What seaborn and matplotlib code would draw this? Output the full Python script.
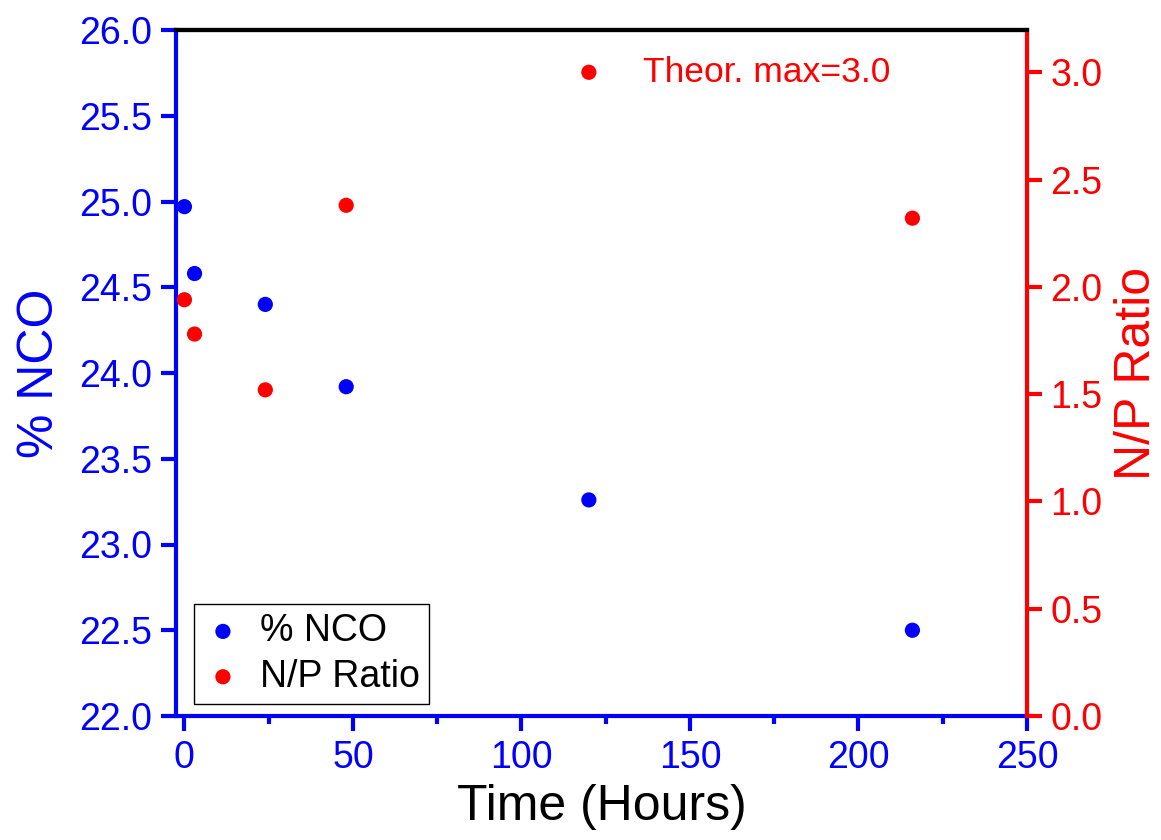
import matplotlib
matplotlib.use("Agg")
import matplotlib.pyplot as plt
from matplotlib.ticker import MultipleLocator
import seaborn as sns
import pandas as pd

time_hours = [0, 3, 24, 48, 120, 216]
nco_pct = [24.97, 24.58, 24.40, 23.92, 23.26, 22.50]
np_ratio = [1.94, 1.78, 1.52, 2.38, 3.00, 2.32]

sns.set_theme(style="white")
plt.rcParams['font.family'] = ['Liberation Sans', 'DejaVu Sans']

df = pd.DataFrame({"Time": time_hours, "NCO": nco_pct, "NP": np_ratio})

fig = plt.figure(figsize=(11.61, 8.40), dpi=100)
ax = fig.add_axes([176/1161, 1-716/840, (1027-176)/1161, (716-30)/840])
ax2 = ax.twinx()

BLUE = "#0000FF"
RED = "#FF0000"

sns.scatterplot(data=df, x="Time", y="NCO", ax=ax, color=BLUE, s=120,
                edgecolor="none", label="% NCO", legend=False, zorder=3)
sns.scatterplot(data=df, x="Time", y="NP", ax=ax2, color=RED, s=120,
                edgecolor="none", label="N/P Ratio", legend=False, zorder=3)

ax.set_xlim(-2.5, 250)
ax.set_ylim(22.0, 26.0)
ax2.set_ylim(0, 3.197)

ax.xaxis.set_major_locator(MultipleLocator(50))
ax.xaxis.set_minor_locator(MultipleLocator(25))
ax.yaxis.set_major_locator(MultipleLocator(0.5))
ax2.yaxis.set_major_locator(MultipleLocator(0.5))
ax.yaxis.set_major_formatter(matplotlib.ticker.FormatStrFormatter('%.1f'))
ax2.yaxis.set_major_formatter(matplotlib.ticker.FormatStrFormatter('%.1f'))

for a in (ax, ax2):
    for sp in a.spines.values():
        sp.set_linewidth(3)
ax.spines['left'].set_color(BLUE)
ax.spines['bottom'].set_color(BLUE)
ax.spines['top'].set_color('black')
ax.spines['right'].set_visible(False)
ax2.spines['left'].set_visible(False)
ax2.spines['bottom'].set_visible(False)
ax2.spines['top'].set_color('black')
ax2.spines['right'].set_color(RED)

ax.tick_params(axis='x', which='major', direction='out', length=11, width=3,
               color=BLUE, labelcolor=BLUE, labelsize=27, pad=6, bottom=True, top=False)
ax.tick_params(axis='x', which='minor', direction='out', length=6, width=3,
               color=BLUE, bottom=True, top=False)
ax.tick_params(axis='y', which='major', direction='out', length=11, width=3,
               color=BLUE, labelcolor=BLUE, labelsize=27, pad=6, left=True, right=False)
ax2.tick_params(axis='y', which='major', direction='out', length=11, width=3,
                color=RED, labelcolor=RED, labelsize=27, pad=6, right=True, left=False)

ax.set_xlabel("Time (Hours)", fontsize=36, color="black", labelpad=6)
ax.set_ylabel("% NCO", fontsize=36, color=BLUE, labelpad=12)
ax2.set_ylabel("N/P Ratio", fontsize=36, color=RED, labelpad=8)
ax.grid(False)
ax2.grid(False)

ax2.text(136, 3.0, "Theor. max=3.0", fontsize=25.5, color=RED, va='center', ha='left')

h1, l1 = ax.get_legend_handles_labels()
h2, l2 = ax2.get_legend_handles_labels()
leg = ax2.legend(h1 + h2, l1 + l2, loc='lower left', bbox_to_anchor=(0.021, 0.0175),
                 borderaxespad=0, fontsize=27, labelcolor='black', frameon=True,
                 fancybox=False, edgecolor='black', framealpha=1, handletextpad=0.46,
                 borderpad=0.25, labelspacing=0.25, handlelength=1.05, markerscale=1.0)
leg.get_frame().set_linewidth(1)

fig.savefig("out.png", dpi=100)
